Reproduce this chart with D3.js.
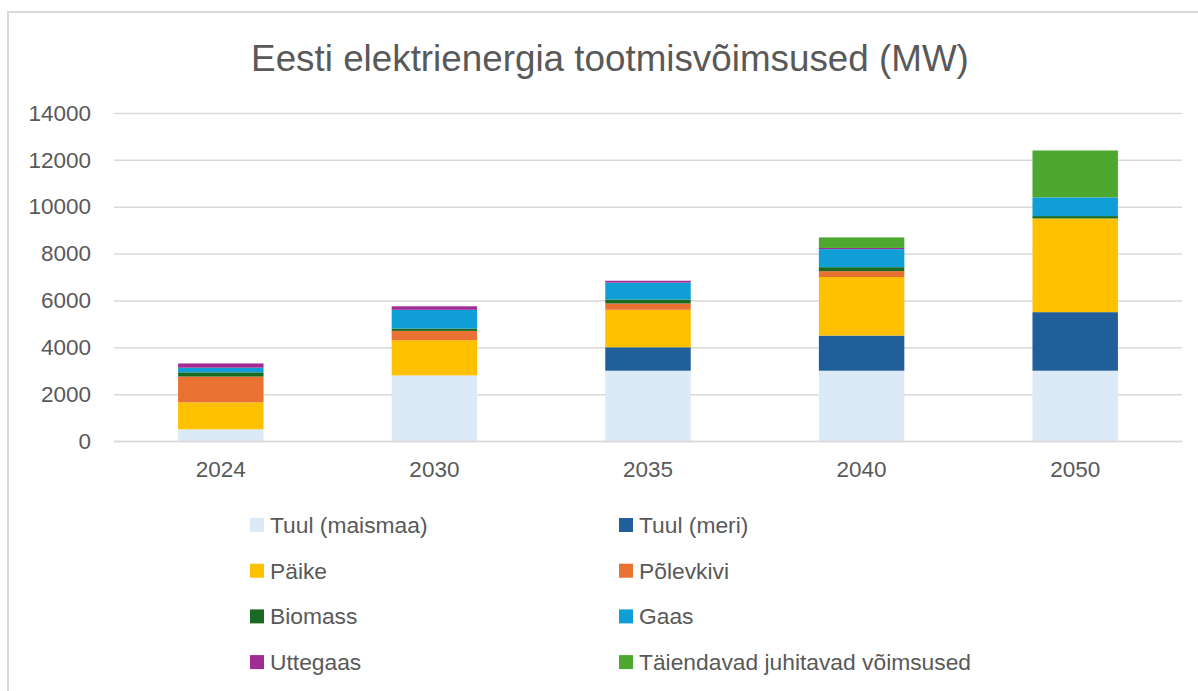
<!DOCTYPE html>
<html><head><meta charset="utf-8">
<script src="https://cdn.jsdelivr.net/npm/d3@7"></script>
<style>body{margin:0;background:#fff}svg{display:block}</style>
</head><body><svg id="c" width="1198" height="691"></svg>
<script>
const years = ["2024","2030","2035","2040","2050"];
const seriesNames = ["Tuul (maismaa)","Tuul (meri)","Päike","Põlevkivi","Biomass","Gaas","Uttegaas","Täiendavad juhitavad võimsused"];
const tuulMaismaa = [500, 2800, 3000, 3000, 3000];
const tuulMeri    = [0, 0, 1000, 1500, 2500];
const paike       = [1150, 1500, 1600, 2500, 4000];
const polevkivi   = [1100, 400, 270, 250, 0];
const biomass     = [180, 100, 170, 170, 100];
const gaas        = [200, 800, 720, 770, 800];
const uttegaas    = [180, 150, 80, 50, 0];
const taiendavad  = [0, 0, 0, 450, 2000];
const yTicks = [0,2000,4000,6000,8000,10000,12000,14000];
const colors = ["#dce9f6","#215f9a","#ffc000","#e97132","#196b24","#0f9ed5","#a02b93","#4ea72e"];

const allSeries = [tuulMaismaa,tuulMeri,paike,polevkivi,biomass,gaas,uttegaas,taiendavad];
const rows = years.map((y,i)=>{const r={year:y}; seriesNames.forEach((n,k)=>r[n]=allSeries[k][i]); return r;});
const stack = d3.stack().keys(seriesNames)(rows);

const svg = d3.select("#c");
const font = "'Liberation Sans', Arial, sans-serif";
const txt = "#595959";

svg.append("rect").attr("x",8).attr("y",12).attr("width",1300).attr("height",800)
  .attr("fill","none").attr("stroke","#d9d9d9").attr("stroke-width",2);

svg.append("text").attr("x",610).attr("y",71).attr("text-anchor","middle")
  .attr("font-family",font).attr("font-size",36.8).attr("fill",txt)
  .text("Eesti elektrienergia tootmisvõimsused (MW)");

const x = d3.scaleBand().domain(years).range([114,1182]).paddingInner(0.6).paddingOuter(0.3);
const y = d3.scaleLinear().domain([0,14000]).range([441,113]);

const gy = svg.append("g").attr("transform","translate(114,0)")
  .call(d3.axisLeft(y).tickValues(yTicks).tickSize(-1068).tickPadding(23).tickFormat(d3.format("d")));
gy.select(".domain").remove();
gy.selectAll(".tick line").attr("stroke","#d9d9d9").attr("stroke-width",1.5);
gy.selectAll(".tick text").attr("font-family",font).attr("font-size",22.5).attr("fill",txt);

const layers = svg.append("g").selectAll("g").data(stack).join("g")
  .attr("fill",(d,i)=>colors[i]);
layers.selectAll("rect").data(d=>d).join("rect")
  .attr("x",d=>x(d.data.year)).attr("width",x.bandwidth())
  .attr("y",d=>y(d[1])).attr("height",d=>y(d[0])-y(d[1]));

const gx = svg.append("g").attr("transform","translate(0,441)")
  .call(d3.axisBottom(x).tickSize(0).tickPadding(20));
gx.select(".domain").attr("stroke","#d9d9d9").attr("stroke-width",1.5);
gx.selectAll(".tick text").attr("font-family",font).attr("font-size",22.5).attr("fill",txt);

const legend = svg.append("g");
const lg = legend.selectAll("g").data(seriesNames).join("g")
  .attr("transform",(d,i)=>`translate(${i%2===0?250:619},${525 + Math.floor(i/2)*45.7})`);
lg.append("rect").attr("x",0).attr("y",-7).attr("width",14).attr("height",14).attr("fill",(d,i)=>colors[i]);
lg.append("text").attr("x",20).attr("y",0).attr("dy","0.35em")
  .attr("font-family",font).attr("font-size",22.8).attr("fill",txt).text(d=>d);
</script></body></html>
